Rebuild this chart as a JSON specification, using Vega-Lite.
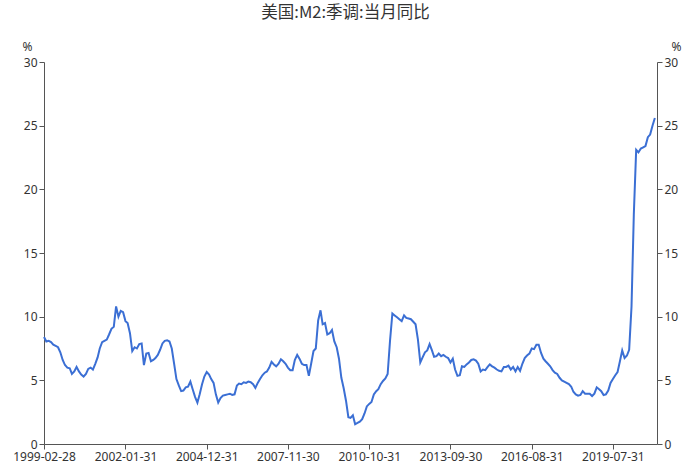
{
"$schema":"https://vega.github.io/schema/vega-lite/v6.json",
"width":613,"height":382,
"autosize":{"type":"none"},
"padding":{"left":44,"top":62,"right":35,"bottom":24},
"title":{"text":"美国:M2:季调:当月同比","font":"Noto Sans CJK SC","fontSize":16.5,"fontWeight":"normal","color":"#333333","anchor":"middle","offset":19,"dx":-5},
"config":{"view":{"stroke":null},"axis":{"grid":false,"domainColor":"#555555","tickColor":"#555555","labelColor":"#333333","labelFont":"Noto Sans","labelFontSize":12,"tickSize":5,"titleFont":"Noto Sans","titleFontSize":12,"titleFontWeight":"normal","titleColor":"#333333"}},
"data":{"values":[
{"date":"1999-02-28","value":8.4},{"date":"1999-03-31","value":8.05},{"date":"1999-04-30","value":8.1},{"date":"1999-05-31","value":8.0},{"date":"1999-06-30","value":7.8},{"date":"1999-07-31","value":7.7},{"date":"1999-08-31","value":7.6},{"date":"1999-09-30","value":7.2},{"date":"1999-10-31","value":6.6},{"date":"1999-11-30","value":6.2},{"date":"1999-12-31","value":6.0},
{"date":"2000-01-31","value":5.95},{"date":"2000-02-29","value":5.5},{"date":"2000-03-31","value":5.7},{"date":"2000-04-30","value":6.05},{"date":"2000-05-31","value":5.7},{"date":"2000-06-30","value":5.45},{"date":"2000-07-31","value":5.3},{"date":"2000-08-31","value":5.5},{"date":"2000-09-30","value":5.9},{"date":"2000-10-31","value":6.0},{"date":"2000-11-30","value":5.85},{"date":"2000-12-31","value":6.3},
{"date":"2001-01-31","value":6.8},{"date":"2001-02-28","value":7.5},{"date":"2001-03-31","value":8.0},{"date":"2001-04-30","value":8.1},{"date":"2001-05-31","value":8.2},{"date":"2001-06-30","value":8.6},{"date":"2001-07-31","value":9.05},{"date":"2001-08-31","value":9.2},{"date":"2001-09-30","value":10.8},{"date":"2001-10-31","value":10.0},{"date":"2001-11-30","value":10.45},{"date":"2001-12-31","value":10.35},
{"date":"2002-01-31","value":9.65},{"date":"2002-02-28","value":9.5},{"date":"2002-03-31","value":8.7},{"date":"2002-04-30","value":7.3},{"date":"2002-05-31","value":7.6},{"date":"2002-06-30","value":7.5},{"date":"2002-07-31","value":7.85},{"date":"2002-08-31","value":7.9},{"date":"2002-09-30","value":6.2},{"date":"2002-10-31","value":7.1},{"date":"2002-11-30","value":7.15},{"date":"2002-12-31","value":6.5},
{"date":"2003-01-31","value":6.6},{"date":"2003-02-28","value":6.75},{"date":"2003-03-31","value":7.0},{"date":"2003-04-30","value":7.4},{"date":"2003-05-31","value":7.9},{"date":"2003-06-30","value":8.1},{"date":"2003-07-31","value":8.15},{"date":"2003-08-31","value":8.05},{"date":"2003-09-30","value":7.5},{"date":"2003-10-31","value":6.3},{"date":"2003-11-30","value":5.1},{"date":"2003-12-31","value":4.6},
{"date":"2004-01-31","value":4.15},{"date":"2004-02-29","value":4.2},{"date":"2004-03-31","value":4.45},{"date":"2004-04-30","value":4.5},{"date":"2004-05-31","value":4.9},{"date":"2004-06-30","value":4.3},{"date":"2004-07-31","value":3.7},{"date":"2004-08-31","value":3.25},{"date":"2004-09-30","value":3.9},{"date":"2004-10-31","value":4.7},{"date":"2004-11-30","value":5.3},{"date":"2004-12-31","value":5.65},
{"date":"2005-01-31","value":5.45},{"date":"2005-02-28","value":5.1},{"date":"2005-03-31","value":4.8},{"date":"2005-04-30","value":3.9},{"date":"2005-05-31","value":3.25},{"date":"2005-06-30","value":3.6},{"date":"2005-07-31","value":3.8},{"date":"2005-08-31","value":3.85},{"date":"2005-09-30","value":3.9},{"date":"2005-10-31","value":3.95},{"date":"2005-11-30","value":3.85},{"date":"2005-12-31","value":3.9},
{"date":"2006-01-31","value":4.6},{"date":"2006-02-28","value":4.75},{"date":"2006-03-31","value":4.7},{"date":"2006-04-30","value":4.85},{"date":"2006-05-31","value":4.8},{"date":"2006-06-30","value":4.9},{"date":"2006-07-31","value":4.85},{"date":"2006-08-31","value":4.7},{"date":"2006-09-30","value":4.4},{"date":"2006-10-31","value":4.8},{"date":"2006-11-30","value":5.1},{"date":"2006-12-31","value":5.4},
{"date":"2007-01-31","value":5.6},{"date":"2007-02-28","value":5.7},{"date":"2007-03-31","value":6.0},{"date":"2007-04-30","value":6.45},{"date":"2007-05-31","value":6.25},{"date":"2007-06-30","value":6.1},{"date":"2007-07-31","value":6.3},{"date":"2007-08-31","value":6.65},{"date":"2007-09-30","value":6.5},{"date":"2007-10-31","value":6.3},{"date":"2007-11-30","value":6.0},{"date":"2007-12-31","value":5.8},
{"date":"2008-01-31","value":5.8},{"date":"2008-02-29","value":6.6},{"date":"2008-03-31","value":7.0},{"date":"2008-04-30","value":6.7},{"date":"2008-05-31","value":6.3},{"date":"2008-06-30","value":6.2},{"date":"2008-07-31","value":6.2},{"date":"2008-08-31","value":5.35},{"date":"2008-09-30","value":6.3},{"date":"2008-10-31","value":7.3},{"date":"2008-11-30","value":7.5},{"date":"2008-12-31","value":9.7},
{"date":"2009-01-31","value":10.5},{"date":"2009-02-28","value":9.4},{"date":"2009-03-31","value":9.5},{"date":"2009-04-30","value":8.6},{"date":"2009-05-31","value":8.7},{"date":"2009-06-30","value":8.95},{"date":"2009-07-31","value":8.05},{"date":"2009-08-31","value":7.6},{"date":"2009-09-30","value":6.7},{"date":"2009-10-31","value":5.2},{"date":"2009-11-30","value":4.4},{"date":"2009-12-31","value":3.4},
{"date":"2010-01-31","value":2.1},{"date":"2010-02-28","value":2.05},{"date":"2010-03-31","value":2.25},{"date":"2010-04-30","value":1.55},{"date":"2010-05-31","value":1.65},{"date":"2010-06-30","value":1.75},{"date":"2010-07-31","value":1.95},{"date":"2010-08-31","value":2.4},{"date":"2010-09-30","value":2.95},{"date":"2010-10-31","value":3.15},{"date":"2010-11-30","value":3.3},{"date":"2010-12-31","value":3.9},
{"date":"2011-01-31","value":4.15},{"date":"2011-02-28","value":4.3},{"date":"2011-03-31","value":4.7},{"date":"2011-04-30","value":4.95},{"date":"2011-05-31","value":5.15},{"date":"2011-06-30","value":5.5},{"date":"2011-07-31","value":8.1},{"date":"2011-08-31","value":10.25},{"date":"2011-09-30","value":10.1},{"date":"2011-10-31","value":9.95},{"date":"2011-11-30","value":9.8},{"date":"2011-12-31","value":9.65},
{"date":"2012-01-31","value":10.1},{"date":"2012-02-29","value":9.9},{"date":"2012-03-31","value":9.85},{"date":"2012-04-30","value":9.8},{"date":"2012-05-31","value":9.6},{"date":"2012-06-30","value":9.4},{"date":"2012-07-31","value":8.2},{"date":"2012-08-31","value":6.4},{"date":"2012-09-30","value":6.8},{"date":"2012-10-31","value":7.2},{"date":"2012-11-30","value":7.35},{"date":"2012-12-31","value":7.85},
{"date":"2013-01-31","value":7.35},{"date":"2013-02-28","value":6.85},{"date":"2013-03-31","value":6.9},{"date":"2013-04-30","value":7.1},{"date":"2013-05-31","value":6.9},{"date":"2013-06-30","value":7.0},{"date":"2013-07-31","value":6.85},{"date":"2013-08-31","value":6.75},{"date":"2013-09-30","value":6.4},{"date":"2013-10-31","value":6.7},{"date":"2013-11-30","value":5.85},{"date":"2013-12-31","value":5.35},
{"date":"2014-01-31","value":5.4},{"date":"2014-02-28","value":6.1},{"date":"2014-03-31","value":6.05},{"date":"2014-04-30","value":6.25},{"date":"2014-05-31","value":6.4},{"date":"2014-06-30","value":6.6},{"date":"2014-07-31","value":6.65},{"date":"2014-08-31","value":6.55},{"date":"2014-09-30","value":6.3},{"date":"2014-10-31","value":5.7},{"date":"2014-11-30","value":5.85},{"date":"2014-12-31","value":5.8},
{"date":"2015-01-31","value":6.05},{"date":"2015-02-28","value":6.25},{"date":"2015-03-31","value":6.1},{"date":"2015-04-30","value":6.0},{"date":"2015-05-31","value":5.85},{"date":"2015-06-30","value":5.75},{"date":"2015-07-31","value":5.7},{"date":"2015-08-31","value":6.05},{"date":"2015-09-30","value":6.05},{"date":"2015-10-31","value":6.15},{"date":"2015-11-30","value":5.85},{"date":"2015-12-31","value":6.05},
{"date":"2016-01-31","value":5.7},{"date":"2016-02-29","value":6.05},{"date":"2016-03-31","value":5.75},{"date":"2016-04-30","value":6.3},{"date":"2016-05-31","value":6.75},{"date":"2016-06-30","value":6.95},{"date":"2016-07-31","value":7.1},{"date":"2016-08-31","value":7.5},{"date":"2016-09-30","value":7.45},{"date":"2016-10-31","value":7.8},{"date":"2016-11-30","value":7.8},{"date":"2016-12-31","value":7.15},
{"date":"2017-01-31","value":6.7},{"date":"2017-02-28","value":6.5},{"date":"2017-03-31","value":6.3},{"date":"2017-04-30","value":6.1},{"date":"2017-05-31","value":5.8},{"date":"2017-06-30","value":5.6},{"date":"2017-07-31","value":5.5},{"date":"2017-08-31","value":5.2},{"date":"2017-09-30","value":5.0},{"date":"2017-10-31","value":4.9},{"date":"2017-11-30","value":4.8},{"date":"2017-12-31","value":4.7},
{"date":"2018-01-31","value":4.5},{"date":"2018-02-28","value":4.1},{"date":"2018-03-31","value":3.9},{"date":"2018-04-30","value":3.8},{"date":"2018-05-31","value":3.85},{"date":"2018-06-30","value":4.15},{"date":"2018-07-31","value":3.95},{"date":"2018-08-31","value":3.95},{"date":"2018-09-30","value":3.95},{"date":"2018-10-31","value":3.77},{"date":"2018-11-30","value":3.95},{"date":"2018-12-31","value":4.45},
{"date":"2019-01-31","value":4.3},{"date":"2019-02-28","value":4.15},{"date":"2019-03-31","value":3.85},{"date":"2019-04-30","value":3.9},{"date":"2019-05-31","value":4.2},{"date":"2019-06-30","value":4.8},{"date":"2019-07-31","value":5.1},{"date":"2019-08-31","value":5.4},{"date":"2019-09-30","value":5.65},{"date":"2019-10-31","value":6.5},{"date":"2019-11-30","value":7.35},{"date":"2019-12-31","value":6.75},
{"date":"2020-01-31","value":6.95},{"date":"2020-02-29","value":7.4},{"date":"2020-03-31","value":10.8},{"date":"2020-04-30","value":18.0},{"date":"2020-05-31","value":23.1},{"date":"2020-06-30","value":22.9},{"date":"2020-07-31","value":23.2},{"date":"2020-08-31","value":23.3},{"date":"2020-09-30","value":23.4},{"date":"2020-10-31","value":24.1},{"date":"2020-11-30","value":24.3},{"date":"2020-12-31","value":25.0},
{"date":"2021-01-31","value":25.6}
]},
"encoding":{
"x":{"field":"date","type":"temporal","scale":{"type":"utc","domain":[{"year":1999,"month":2,"date":28,"utc":true},{"year":2021,"month":2,"date":28,"utc":true}]},
"axis":{"title":null,"values":[{"year":1999,"month":2,"date":28,"utc":true},{"year":2002,"month":1,"date":31,"utc":true},{"year":2004,"month":12,"date":31,"utc":true},{"year":2007,"month":11,"date":30,"utc":true},{"year":2010,"month":10,"date":31,"utc":true},{"year":2013,"month":9,"date":30,"utc":true},{"year":2016,"month":8,"date":31,"utc":true},{"year":2019,"month":7,"date":31,"utc":true}],"labelExpr":"utcFormat(datum.value, '%Y-%m-%d')","labelPadding":2,"labelFlush":false,"labelOverlap":false}},
"y":{"field":"value","type":"quantitative","scale":{"domain":[0,30],"nice":false,"zero":true}}
},
"layer":[
{"mark":{"type":"line","color":"#3b6fd4","strokeWidth":2,"interpolate":"linear"},
"encoding":{"y":{"field":"value","type":"quantitative","axis":{"orient":"left","values":[0,5,10,15,20,25,30],"title":"%","titleAngle":0,"titleX":-17,"titleY":-9,"titleAlign":"center","titleBaseline":"bottom","labelPadding":2}}}},
{"transform":[{"filter":{"field":"date","oneOf":["1999-02-28","2002-01-31","2004-12-31","2007-11-30","2010-10-31","2013-09-30","2016-08-31","2019-07-31"]}}],
"mark":{"type":"point","filled":true,"fill":"#ffffff","stroke":"#3b6fd4","strokeWidth":1,"size":16,"opacity":1},
"encoding":{"y":{"field":"value","type":"quantitative","axis":{"orient":"right","values":[0,5,10,15,20,25,30],"title":"%","titleAngle":0,"titleX":19,"titleY":-9,"titleAlign":"center","titleBaseline":"bottom","labelPadding":2}}}}
],
"resolve":{"axis":{"y":"independent"}}
}
